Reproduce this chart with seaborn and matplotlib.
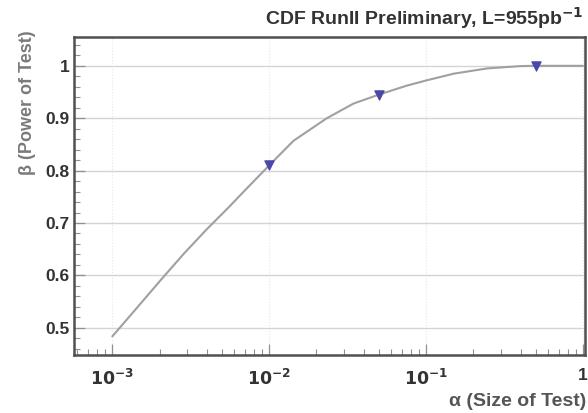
import numpy as np
import pandas as pd
import matplotlib
matplotlib.use("Agg")
import matplotlib.pyplot as plt
import matplotlib.ticker as mticker
import seaborn as sns

# Power curve: beta vs alpha
alpha_curve = [1e-3, 1.37e-3, 2.09e-3, 2.85e-3, 4.0e-3, 5.4e-3, 7.2e-3, 0.01, 0.0143,
               0.0233, 0.0345, 0.05, 0.075, 0.1, 0.15, 0.245, 0.4, 0.5, 1.0]
beta_curve = [0.4835, 0.531, 0.595, 0.641, 0.688, 0.727, 0.766, 0.81, 0.857,
              0.900, 0.928, 0.945, 0.962, 0.972, 0.985, 0.995, 0.9995, 1.0, 1.0]

# Working points marked on the curve
alpha_points = [0.01, 0.05, 0.5]
beta_points = [0.81, 0.945, 1.0]

title_text = "CDF RunII Preliminary, L=955pb$^{\\mathbf{-1}}$"
xlabel_text = "α (Size of Test)"
ylabel_text = "β (Power of Test)"

sns.set_theme(style="white")
plt.rcParams["font.family"] = ["Liberation Sans", "DejaVu Sans"]

fig = plt.figure(figsize=(5.88, 4.13), dpi=100)
ax = fig.add_axes([74 / 588, 1 - 355 / 413, (585 - 74) / 588, (355 - 37) / 413])

curve = pd.DataFrame({"alpha": alpha_curve, "beta": beta_curve})
pts = pd.DataFrame({"alpha": alpha_points, "beta": beta_points})

sns.lineplot(data=curve, x="alpha", y="beta", ax=ax, color="#a0a0a0", lw=1.5,
             zorder=3, solid_joinstyle="round")
sns.scatterplot(data=pts, x="alpha", y="beta", ax=ax, marker="v", s=45,
                color="#4a47a8", edgecolor="#4a47a8", linewidth=0.8, zorder=4)

ax.set_xscale("log")
ax.set_xlim(5.7e-4, 1.03)
ax.set_ylim(0.448, 1.055)

ax.yaxis.set_major_locator(mticker.MultipleLocator(0.1))
ax.yaxis.set_minor_locator(mticker.MultipleLocator(0.02))
ax.yaxis.set_major_formatter(mticker.FuncFormatter(lambda v, p: f"{v:g}"))
ax.xaxis.set_major_locator(mticker.LogLocator(base=10, numticks=10))
ax.xaxis.set_minor_locator(mticker.LogLocator(base=10, subs=np.arange(2, 10), numticks=20))

def xfmt(v, p):
    e = int(round(np.log10(v)))
    return "1" if e == 0 else f"$\\mathbf{{10^{{{e}}}}}$"
ax.xaxis.set_major_formatter(mticker.FuncFormatter(xfmt))

ax.grid(True, axis="y", which="major", color="#d4d4d4", lw=1.0, zorder=0)
ax.grid(True, axis="x", which="major", color="#e6e6e6", lw=0.8, ls=":", zorder=0)

ax.tick_params(axis="y", which="major", direction="in", length=8, width=0.9,
               color="#909090", labelsize=12.5, labelcolor="#333333", pad=3)
ax.tick_params(axis="x", which="major", direction="in", length=8, width=0.9,
               color="#909090", labelsize=12.5, labelcolor="#333333", pad=9)
ax.tick_params(axis="both", which="minor", direction="in", length=4, width=0.8,
               color="#909090")
ax.tick_params(axis="both", which="both", bottom=True, left=True)
for lab in ax.get_yticklabels() + ax.get_xticklabels():
    lab.set_fontweight("bold")

for s in ax.spines.values():
    s.set_color("#505050")
    s.set_linewidth(1.8)

ax.set_xlabel("")
ax.set_ylabel("")
fig.text(584 / 588, 1 - 18 / 413, title_text, ha="right", va="center",
         fontsize=14, fontweight="bold", color="#333333")
fig.text(586 / 588, 1 - 401 / 413, xlabel_text, ha="right", va="center",
         fontsize=14, fontweight="bold", color="#555555")
fig.text(28 / 588, 1 - 30 / 413, ylabel_text, ha="center", va="top", rotation=90,
         fontsize=13, fontweight="bold", color="#7a7a7a")

fig.savefig("out.png", dpi=100, facecolor="white")
